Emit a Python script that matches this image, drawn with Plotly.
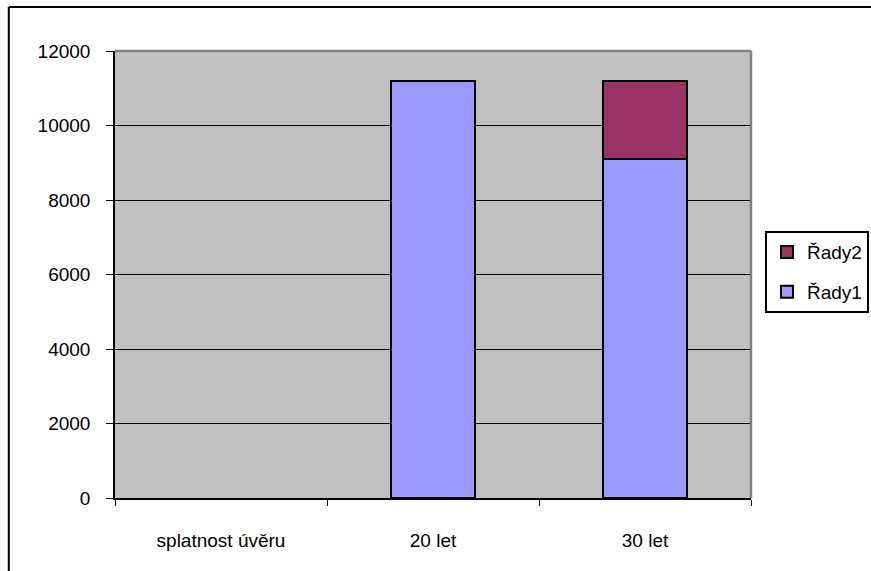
import plotly.graph_objects as go

categories = ["splatnost úvěru", "20 let", "30 let"]
rady1 = [None, 11200, 9100]
rady2 = [None, None, 2100]
y_ticks = [0, 2000, 4000, 6000, 8000, 10000, 12000]

font = dict(family="Liberation Sans, Arial, sans-serif", size=19, color="black")

fig = go.Figure()
fig.add_trace(go.Bar(
    name="Řady1", x=categories, y=rady1, legendgroup="g1", legendrank=2,
    marker=dict(color="#9999FF", line=dict(color="black", width=2)),
))
fig.add_trace(go.Bar(
    name="Řady2", x=categories, y=rady2, legendgroup="g2", legendrank=1,
    marker=dict(color="#993366", line=dict(color="black", width=2)),
))

fig.update_layout(
    width=871, height=571,
    margin=dict(l=115, r=120, t=51, b=73, autoexpand=False),
    barmode="stack", bargap=0.6,
    paper_bgcolor="white", plot_bgcolor="#C0C0C0",
    font=font,
    showlegend=True,
    legend=dict(
        x=1.1855, y=0.597, xanchor="right", yanchor="top",
        traceorder="grouped", tracegroupgap=12, itemwidth=30,
        bordercolor="black", borderwidth=2, bgcolor="white",
        font=font,
    ),
    xaxis=dict(
        showline=True, linecolor="black", linewidth=2,
        ticks="outside", tickson="boundaries", ticklen=6, tickcolor="black",
        showgrid=False, ticklabelstandoff=24,
    ),
    yaxis=dict(
        range=[0, 12000], tickvals=y_ticks, tickformat="d",
        showline=True, linecolor="black", linewidth=1.5,
        ticks="outside", ticklen=7, tickcolor="black",
        showgrid=True, gridcolor="black", gridwidth=1,
        zeroline=False, ticklabelstandoff=12,
    ),
    shapes=[
        # plot-area border on top and right
        dict(type="line", xref="paper", yref="paper", x0=0, x1=1, y0=1, y1=1,
             line=dict(color="#808080", width=2.5), layer="above"),
        dict(type="line", xref="paper", yref="paper", x0=1, x1=1, y0=0, y1=1,
             line=dict(color="#808080", width=2.5), layer="above"),
        # chart frame: left and top edges
        dict(type="line", xref="paper", yref="paper",
             x0=-0.167, x1=-0.167, y0=-0.25, y1=1.0985,
             line=dict(color="black", width=2), layer="above"),
        dict(type="line", xref="paper", yref="paper",
             x0=-0.167, x1=1.3, y0=1.0985, y1=1.0985,
             line=dict(color="black", width=2), layer="above"),
    ],
)

fig.write_html("out.html")
